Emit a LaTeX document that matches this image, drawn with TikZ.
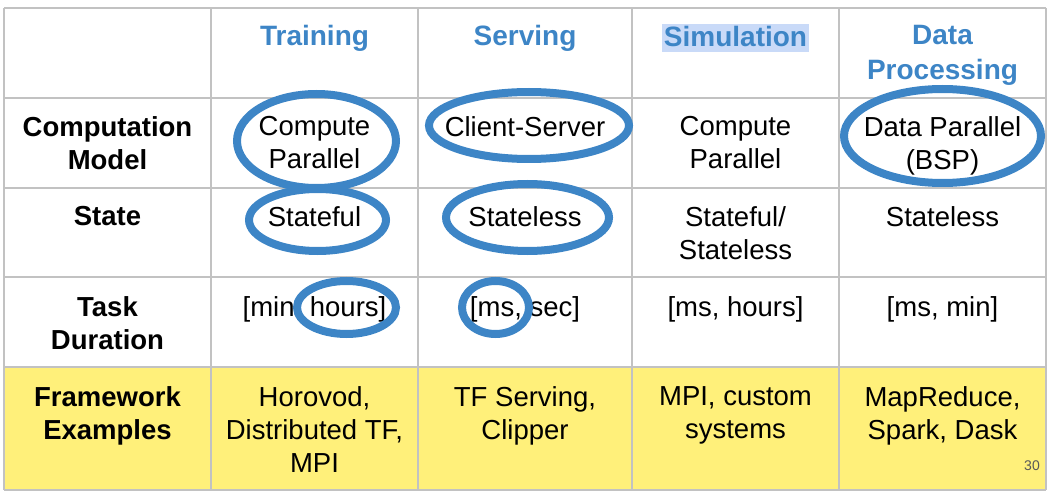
\documentclass[tikz,border=0pt]{standalone}
\usepackage{fontspec}
\setmainfont{Liberation Sans}
\definecolor{hdrblue}{HTML}{3D85C6}
\definecolor{gridgray}{HTML}{C2C2C2}
\definecolor{fwyellow}{HTML}{FFF07A}
\definecolor{hilite}{HTML}{C9DAF8}

\begin{document}
\begin{tikzpicture}[x=1pt,y=-1pt,
   cell/.style={anchor=north,inner sep=0pt,align=center,font=\fontsize{27.5}{33}\selectfont},
   rowlabel/.style={cell,font=\fontsize{27.5}{33}\selectfont\bfseries},
   colhead/.style={cell,text=hdrblue,font=\fontsize{28}{35}\selectfont\bfseries},
   circled/.style={draw=hdrblue,line width=8pt}]

\useasboundingbox (0,0) rectangle (1060,497);
\fill[fwyellow] (4,367) rectangle (1046,490);
\foreach \x in {4,211,418,632,839,1046} \draw[gridgray,line width=2pt] (\x,8) -- (\x,490);
\foreach \y in {8,98,188,277,367,490} \draw[gridgray,line width=2pt] (4,\y) -- (1046,\y);

% column heads
\node[colhead] (train) at (314.5,25) {Training};
\node[colhead] (serve) at (525,25) {Serving};
\node[colhead,fill=hilite,inner xsep=2pt,text height=22pt,text depth=6pt] (sim) at (735.5,24) {Simulation};
\node[colhead] (dproc) at (942.5,25) {Data\\Processing};

% row labels
\node[rowlabel] (comp) at (107.5,116) {Computation\\Model};
\node[rowlabel] (state) at (107.5,206) {State};
\node[rowlabel] (dur) at (107.5,296) {Task\\Duration};
\node[rowlabel] (fw) at (107.5,386) {Framework\\Examples};

% cells
\node[cell] (train-comp) at (314.5,116) {Compute\\Parallel};
\node[cell] (serve-comp) at (525,116) {Client-Server};
\node[cell] (sim-comp) at (735.5,116) {Compute\\Parallel};
\node[cell] (dproc-comp) at (942.5,116) {Data Parallel\\(BSP)};

\node[cell] (train-state) at (314.5,206) {Stateful};
\node[cell] (serve-state) at (525,206) {Stateless};
\node[cell] (sim-state) at (735.5,206) {Stateful/\\Stateless};
\node[cell] (dproc-state) at (942.5,206) {Stateless};

\node[cell] (train-dur) at (314.5,296) {[min, hours]};
\node[cell] (serve-dur) at (525,296) {[ms, sec]};
\node[cell] (sim-dur) at (735.5,296) {[ms, hours]};
\node[cell] (dproc-dur) at (942.5,296) {[ms, min]};

\node[cell] (train-fw) at (314.5,386) {Horovod,\\Distributed TF,\\MPI};
\node[cell] (serve-fw) at (525,386) {TF Serving,\\Clipper};
\node[cell] (sim-fw) at (735.5,386) {MPI, custom\\systems};
\node[cell] (dproc-fw) at (942.5,386) {MapReduce,\\Spark, Dask};

\node[anchor=base,inner sep=0pt,text=black!65,font=\fontsize{14}{16}\selectfont] (pagenum) at (1032,470) {30};

% hand-drawn rings
\draw[circled] (316.5,141) ellipse [x radius=79.5pt,y radius=47pt];
\draw[circled] (317.5,220) ellipse [x radius=68.5pt,y radius=31pt];
\draw[circled] (529,125.5) ellipse [x radius=100pt,y radius=33.5pt];
\draw[circled] (527.5,217.5) ellipse [x radius=81.5pt,y radius=33.5pt];
\draw[circled] (942.5,136) ellipse [x radius=98.5pt,y radius=47pt];
\draw[circled] (346.5,307.5) ellipse [x radius=49.5pt,y radius=26.5pt];
\draw[circled] (495.5,307.5) ellipse [x radius=33.5pt,y radius=26.5pt];

\end{tikzpicture}
\end{document}
